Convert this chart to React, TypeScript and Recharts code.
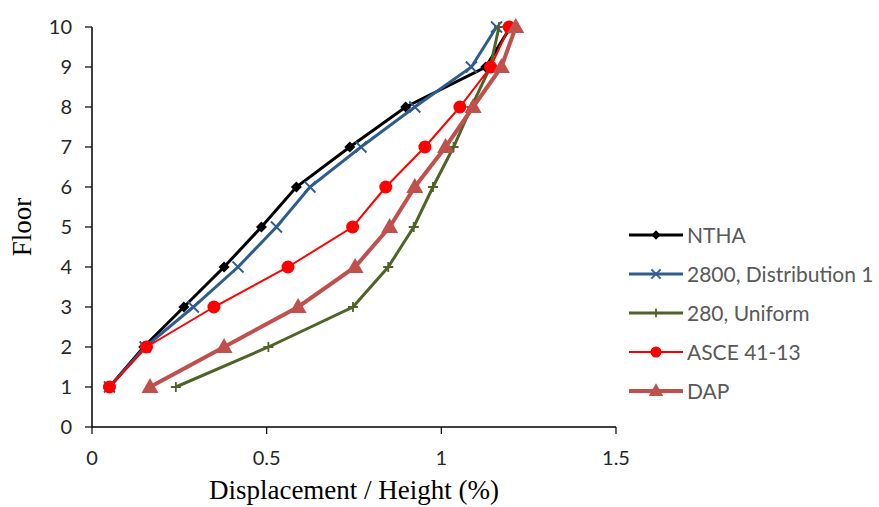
import {
  ScatterChart,
  Scatter,
  XAxis,
  YAxis,
  Label,
} from 'recharts';

// floors 1..10, displacement / height (%)
const floors = [1, 2, 3, 4, 5, 6, 7, 8, 9, 10];
const nthaDrift = [0.05, 0.148, 0.263, 0.378, 0.485, 0.585, 0.738, 0.898, 1.127, 1.198];
const dist1Drift = [0.05, 0.152, 0.29, 0.418, 0.528, 0.624, 0.77, 0.924, 1.086, 1.158];
const uniformDrift = [0.24, 0.505, 0.747, 0.848, 0.921, 0.976, 1.035, 1.086, 1.14, 1.165];
const asceDrift = [0.05, 0.156, 0.349, 0.561, 0.746, 0.841, 0.953, 1.053, 1.141, 1.194];
const dapDrift = [0.166, 0.378, 0.59, 0.753, 0.852, 0.924, 1.012, 1.091, 1.172, 1.213];

const xTicks = [0, 0.5, 1, 1.5];
const yTicks = [0, 1, 2, 3, 4, 5, 6, 7, 8, 9, 10];

const toPoints = (drift: number[]) => drift.map((x, i) => ({ x, y: floors[i] }));

type MarkerKind = 'diamond' | 'cross' | 'plus' | 'circle' | 'triangle';

const series: { name: string; color: string; width: number; marker: MarkerKind; values: number[] }[] = [
  { name: 'NTHA', color: '#000000', width: 3, marker: 'diamond', values: nthaDrift },
  { name: '2800, Distribution 1', color: '#2E5C8F', width: 3, marker: 'cross', values: dist1Drift },
  { name: '280, Uniform', color: '#4F6228', width: 3, marker: 'plus', values: uniformDrift },
  { name: 'ASCE 41-13', color: '#FF0000', width: 2, marker: 'circle', values: asceDrift },
  { name: 'DAP', color: '#C0504D', width: 4, marker: 'triangle', values: dapDrift },
];

function Marker({ kind, cx, cy, color, scale = 1 }: { kind: MarkerKind; cx: number; cy: number; color: string; scale?: number }) {
  const s = scale;
  switch (kind) {
    case 'diamond':
      return <path d={`M${cx},${cy - 5.5 * s}L${cx + 5.5 * s},${cy}L${cx},${cy + 5.5 * s}L${cx - 5.5 * s},${cy}Z`} fill={color} />;
    case 'cross':
      return (
        <path
          d={`M${cx - 5.5 * s},${cy - 5.5 * s}L${cx + 5.5 * s},${cy + 5.5 * s}M${cx + 5.5 * s},${cy - 5.5 * s}L${cx - 5.5 * s},${cy + 5.5 * s}`}
          stroke={color}
          strokeWidth={1.8}
          fill="none"
        />
      );
    case 'plus':
      return (
        <path
          d={`M${cx - 5 * s},${cy}L${cx + 5 * s},${cy}M${cx},${cy - 5 * s}L${cx},${cy + 5 * s}`}
          stroke={color}
          strokeWidth={1.8}
          fill="none"
        />
      );
    case 'circle':
      return <circle cx={cx} cy={cy} r={6.5 * s} fill={color} />;
    case 'triangle':
      return <path d={`M${cx},${cy - 9 * s}L${cx + 8.5 * s},${cy + 6 * s}L${cx - 8.5 * s},${cy + 6 * s}Z`} fill={color} />;
  }
}

function LegendBox() {
  return (
    <div
      style={{
        position: 'absolute',
        left: 628,
        top: 215,
        fontFamily: 'Lato, "Noto Sans", sans-serif',
        fontSize: 21,
        color: '#595959',
      }}
    >
      {series.map((s) => (
        <div key={s.name} style={{ display: 'flex', alignItems: 'center', height: 39 }}>
          <svg width={56} height={20} style={{ marginRight: 3 }}>
            <line x1={1} y1={10} x2={55} y2={10} stroke={s.color} strokeWidth={s.width} />
            <Marker kind={s.marker} cx={28} cy={10} color={s.color} scale={0.85} />
          </svg>
          <span>{s.name}</span>
        </div>
      ))}
    </div>
  );
}

const serif = '"Liberation Serif", "Times New Roman", serif';
const tickFont = { fill: '#262626', fontSize: 20, fontFamily: 'Lato, "Noto Sans", sans-serif' };

export default function App() {
  return (
    <div style={{ position: 'absolute', left: 0, top: 0, width: 879, height: 507, background: '#fff' }}>
      <ScatterChart width={879} height={507} margin={{ top: 27, right: 263, bottom: 40, left: 32 }}>
        <XAxis
          type="number"
          dataKey="x"
          domain={[0, 1.5]}
          ticks={xTicks}
          tick={tickFont}
          tickSize={7}
          tickMargin={17}
          axisLine={{ stroke: '#000', strokeWidth: 1.5 }}
          tickLine={{ stroke: '#000', strokeWidth: 1.2 }}
          height={40}
        >
          <Label
            value="Displacement / Height (%)"
            position="bottom"
            offset={13}
            style={{ fill: '#000', fontSize: 27, fontFamily: serif }}
          />
        </XAxis>
        <YAxis
          type="number"
          dataKey="y"
          domain={[0, 10]}
          ticks={yTicks}
          interval={0}
          tick={tickFont}
          tickSize={7}
          tickMargin={13}
          axisLine={{ stroke: '#000', strokeWidth: 1.5 }}
          tickLine={{ stroke: '#000', strokeWidth: 1.2 }}
          width={60}
        >
          <Label
            value="Floor"
            angle={-90}
            position="insideLeft"
            offset={-11}
            style={{ fill: '#000', fontSize: 27, fontFamily: serif, textAnchor: 'middle' }}
          />
        </YAxis>
        {series.map((s) => (
          <Scatter
            key={s.name}
            name={s.name}
            data={toPoints(s.values)}
            line={{ stroke: s.color, strokeWidth: s.width }}
            lineType="joint"
            isAnimationActive={false}
            shape={(p: any) => <Marker kind={s.marker} cx={p.cx} cy={p.cy} color={s.color} />}
          />
        ))}
      </ScatterChart>
      <LegendBox />
    </div>
  );
}
